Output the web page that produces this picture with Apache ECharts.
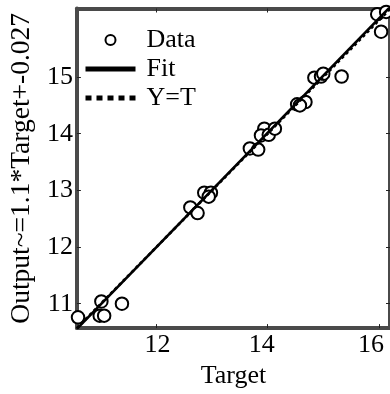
<!DOCTYPE html>
<html><head><meta charset="utf-8">
<script src="https://cdn.jsdelivr.net/npm/echarts@6/dist/echarts.min.js"></script>
<style>html,body{margin:0;padding:0;background:#fff}#c{width:390px;height:394px}</style>
</head><body><div id="c"></div>
<script>
// Data
const targetValues = [10.59, 11.01, 10.98, 11.06, 11.38, 12.61, 12.74, 12.86, 12.98, 12.94,
  13.68, 13.83, 13.94, 13.88, 14.02, 14.13, 14.53, 14.68, 14.58, 14.84, 14.96, 15.00, 15.33,
  15.97, 16.04, 16.13];
const outputValues = [10.76, 11.04, 10.79, 10.79, 11.00, 12.70, 12.60, 12.96, 12.96, 12.89,
  13.74, 13.72, 14.09, 13.97, 13.98, 14.09, 14.52, 14.56, 14.50, 14.99, 15.01, 15.06, 15.01,
  16.11, 15.80, 16.15];
const fitX = [10.57, 16.2];
const fitY = [10.555, 16.235];
const identX = [10.57, 16.2];
const identY = [10.57, 16.2];
const xTicks = [12, 14, 16];
const yTicks = [11, 12, 13, 14, 15];
const axisMin = 10.57, xMax = 16.2, yMax = 16.21;

const FONT = 'Liberation Serif';
const chart = echarts.init(document.getElementById('c'), null, {renderer: 'canvas'});
const axisLine = {show: true, onZero: false, lineStyle: {color: '#4a4a4a', width: 4}};
const tick = {inside: true, length: 4, lineStyle: {color: '#222', width: 1}};
const hiddenDot = {color: 'transparent', borderColor: 'transparent', borderWidth: 0, opacity: 0};
chart.setOption({
  backgroundColor: '#fff',
  animation: false,
  grid: {left: 68.5, top: 8.5, width: 323.7, height: 325.5, containLabel: false},
  legend: {
    orient: 'vertical', left: 78, top: 22, itemWidth: 50, itemHeight: 10, itemGap: 3,
    textStyle: {fontFamily: FONT, fontSize: 26, color: '#000', padding: [0, 0, 0, 6]},
    data: [
      {name: 'Data', icon: 'emptyCircle', itemStyle: {color: '#000', borderColor: '#000', borderWidth: 1.3}},
      {name: 'Fit', itemStyle: hiddenDot, lineStyle: {color: '#000', width: 5, type: 'solid'}},
      {name: 'Y=T', itemStyle: hiddenDot, lineStyle: {color: '#000', width: 5, type: [6, 5]}}
    ]
  },
  xAxis: [{
    type: 'value', position: 'bottom', min: axisMin, max: xMax,
    axisLine: axisLine, splitLine: {show: false},
    axisTick: Object.assign({}, tick, {customValues: xTicks}),
    axisLabel: {customValues: xTicks, margin: 4, color: '#000', fontFamily: FONT, fontSize: 26,
      formatter: v => v === 12 ? '{a|12}' : (v === 14 ? '{b|14}' : '{c|16}'),
      rich: {a: {fontFamily: FONT, fontSize: 26, color: '#000', padding: [0, 0, 0, 2]},
             b: {fontFamily: FONT, fontSize: 26, color: '#000', padding: [0, 12, 0, 0]},
             c: {fontFamily: FONT, fontSize: 26, color: '#000', padding: [0, 16, 0, 0]}}},
    name: 'Target', nameLocation: 'middle', nameGap: 31,
    nameTextStyle: {fontFamily: FONT, fontSize: 26, color: '#000'}
  }, {
    type: 'value', position: 'top', min: axisMin, max: xMax,
    axisLine: axisLine, splitLine: {show: false},
    axisTick: Object.assign({}, tick, {customValues: xTicks}),
    axisLabel: {show: false}
  }],
  yAxis: [{
    type: 'value', position: 'left', min: axisMin, max: yMax,
    axisLine: axisLine, splitLine: {show: false},
    axisTick: Object.assign({}, tick, {customValues: yTicks}),
    axisLabel: {customValues: yTicks, margin: 4, color: '#000', fontFamily: FONT, fontSize: 26},
    name: 'Output~=1.1*Target+-0.027', nameLocation: 'middle', nameGap: 33, nameRotate: 90,
    nameTextStyle: {fontFamily: FONT, fontSize: 27.5, color: '#000'}
  }, {
    type: 'value', position: 'right', min: axisMin, max: yMax,
    axisLine: axisLine, splitLine: {show: false},
    axisTick: Object.assign({}, tick, {customValues: yTicks}),
    axisLabel: {show: false}
  }],
  series: [
    {name: 'Data', type: 'scatter', symbol: 'emptyCircle', symbolSize: 12.5,
     itemStyle: {color: '#000', borderColor: '#000', borderWidth: 1.3, opacity: 1},
     data: targetValues.map((t, i) => [t, outputValues[i]]), z: 2},
    {name: 'Fit', type: 'line', symbol: 'none', color: '#000', lineStyle: {color: '#000', width: 2.6},
     data: fitX.map((x, i) => [x, fitY[i]]), z: 4},
    {name: 'Y=T', type: 'line', symbol: 'none', color: '#000', lineStyle: {color: '#000', width: 2.6, type: [3, 3]},
     data: identX.map((x, i) => [x, identY[i]]), z: 3}
  ]
});
</script></body></html>
